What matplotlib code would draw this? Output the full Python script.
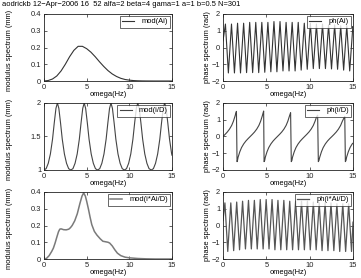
import matplotlib
matplotlib.use("Agg")
import matplotlib.pyplot as plt

plt.rcParams['font.family'] = ['Liberation Sans', 'DejaVu Sans']

title_text = "aodrickb 12\u2212Apr\u22122006 16  52 alfa=2 beta=4 gama=1 a=1 b=0.5 N=301"

# --- mod(Ai)
modAi_x = [0, 0.5, 1, 1.5, 2, 2.5, 3, 3.5, 4, 4.5, 5, 5.5, 6, 6.5, 7, 7.5, 8, 8.5, 9,
           9.5, 10, 10.5, 11, 11.5, 12, 13, 14, 15]
modAi_y = [0, 0.003, 0.012, 0.03, 0.06, 0.1, 0.145, 0.183, 0.207, 0.207, 0.193, 0.172,
           0.145, 0.115, 0.087, 0.062, 0.042, 0.027, 0.016, 0.009, 0.005, 0.0025, 0.0012,
           0.0005, 0.0002, 0, 0, 0]

# --- ph(Ai) zigzag vertices
phAi_x = [0, 0.28, 0.62, 0.98, 1.32, 1.68, 2.02, 2.38, 2.72, 3.08, 3.42, 3.78, 4.12, 4.48,
          4.82, 5.18, 5.52, 5.88, 6.22, 6.58, 6.92, 7.28, 7.62, 7.98, 8.32, 8.68, 9.02,
          9.38, 9.72, 10.08, 10.42, 10.78, 11.12, 11.48, 11.82, 12.18, 12.52, 12.88, 13.22,
          13.58, 13.92, 14.28, 14.62, 14.98, 15.0]
phAi_y = [0.4, 1.4, -1.52, 1.4, -1.52, 1.45, -1.52, 1.45, -1.5, 1.5, -1.5, 1.5, -1.5, 1.5,
          -1.48, 1.5, -1.45, 1.55, -1.45, 1.55, -1.4, 1.5, -1.4, 1.5, -1.4, 1.5, -1.35,
          1.45, -1.3, 1.45, -1.26, 1.4, -1.26, 1.4, -1.26, 1.35, -1.28, 1.35, -1.3,
          1.3, -1.35, 1.3, -1.4, 1.25, 1.2]

# --- mod(i/D)
modID_x = [0, 0.25, 0.5, 0.75, 1.0, 1.2, 1.4, 1.57, 1.74, 1.94, 2.14, 2.39, 2.64, 2.89, 3.14,
           3.39, 3.64, 3.89, 4.14, 4.34, 4.54, 4.71, 4.88, 5.08, 5.28, 5.53, 5.78, 6.03, 6.28,
           6.53, 6.78, 7.03, 7.28, 7.48, 7.68, 7.85, 8.02, 8.22, 8.42, 8.67, 8.92, 9.17, 9.42,
           9.67, 9.92, 10.17, 10.42, 10.62, 10.82, 10.99, 11.16, 11.36, 11.56, 11.81, 12.06, 12.31, 12.57,
           12.82, 13.07, 13.32, 13.57, 13.77, 13.97, 14.14, 14.31, 14.51, 14.71, 14.96, 15.0]
modID_y = [1.0, 1.02, 1.1, 1.24, 1.46, 1.7, 1.92, 2.0, 1.92, 1.7, 1.46, 1.24, 1.1, 1.02, 1.0,
           1.02, 1.1, 1.24, 1.46, 1.7, 1.92, 2.0, 1.92, 1.7, 1.46, 1.24, 1.1, 1.02, 1.0,
           1.02, 1.1, 1.24, 1.46, 1.7, 1.92, 2.0, 1.92, 1.7, 1.46, 1.24, 1.1, 1.02, 1.0,
           1.02, 1.1, 1.24, 1.46, 1.7, 1.92, 2.0, 1.92, 1.7, 1.46, 1.24, 1.1, 1.02, 1.0,
           1.02, 1.1, 1.24, 1.46, 1.7, 1.92, 2.0, 1.92, 1.7, 1.46, 1.24, 1.22]

# --- ph(i/D)
phID_x = [0, 0.25, 0.5, 0.75, 1.0, 1.2, 1.4, 1.5, 1.55,
          1.62, 1.67, 1.74, 1.94, 2.14, 2.39, 2.64, 2.89, 3.14, 3.39, 3.64, 3.89, 4.14, 4.34, 4.54, 4.64, 4.69,
          4.74, 4.81, 4.88, 5.08, 5.28, 5.53, 5.78, 6.03, 6.28, 6.53, 6.78, 7.03, 7.28, 7.48, 7.68, 7.8,
          7.88, 7.95, 8.02, 8.22, 8.42, 8.67, 8.92, 9.17, 9.42, 9.67, 9.92, 10.17, 10.42, 10.62, 10.8, 10.92,
          11.0, 11.07, 11.16, 11.36, 11.56, 11.81, 12.06, 12.31, 12.57, 12.82, 13.07, 13.32, 13.57, 13.77, 13.97, 14.05,
          14.12, 14.19, 14.26, 14.46, 14.66, 14.91, 15.0]
phID_y = [0, 0.13, 0.27, 0.44, 0.66, 0.91, 1.24, 1.43, 1.5,
          -1.5, -1.43, -1.24, -0.91, -0.66, -0.44, -0.27, -0.13, 0, 0.13, 0.27, 0.44, 0.66, 0.91, 1.24, 1.43, 1.52,
          -1.5, -1.43, -1.24, -0.91, -0.66, -0.44, -0.27, -0.13, 0, 0.13, 0.27, 0.44, 0.66, 0.91, 1.24, 1.42,
          -1.5, -1.43, -1.24, -0.91, -0.66, -0.44, -0.27, -0.13, 0, 0.13, 0.27, 0.44, 0.66, 0.91, 1.18, 1.27,
          -1.5, -1.43, -1.24, -0.91, -0.66, -0.44, -0.27, -0.13, 0, 0.13, 0.27, 0.44, 0.66, 0.91, 1.12, 1.2,
          -1.5, -1.43, -1.24, -0.91, -0.66, -0.44, -0.4]

# --- mod(i*Ai/D)
modIAD_x = [0, 0.3, 0.6, 0.9, 1.1, 1.3, 1.5, 1.7, 1.85, 2.0, 2.3, 2.6, 2.9, 3.1, 3.3, 3.6, 3.9,
            4.2, 4.45, 4.65, 4.85, 5.0, 5.2, 5.4, 5.6, 5.9, 6.2, 6.6, 6.9, 7.2, 7.5, 7.7, 8.0,
            8.3, 8.6, 9.0, 9.5, 10.0, 10.5, 11.0, 11.5, 12.0, 13.0, 14.0, 15.0]
modIAD_y = [0, 0.004, 0.02, 0.045, 0.065, 0.095, 0.13, 0.163, 0.178, 0.18, 0.175, 0.174, 0.178,
            0.187, 0.2, 0.228, 0.27, 0.33, 0.375, 0.395, 0.375, 0.345, 0.3, 0.25, 0.205, 0.165,
            0.143, 0.12, 0.106, 0.103, 0.1, 0.095, 0.078, 0.055, 0.035, 0.02, 0.011, 0.007,
            0.005, 0.003, 0.002, 0.001, 0, 0, 0]

# --- ph(i*Ai/D) zigzag vertices
phIAD_x = [0, 0.22, 0.55, 0.9, 1.23, 1.58, 1.91, 2.26, 2.59, 2.94, 3.27, 3.62, 3.95, 4.3,
           4.63, 4.98, 5.31, 5.66, 5.99, 6.34, 6.67, 7.02, 7.35, 7.7, 8.03, 8.38, 8.71,
           9.06, 9.39, 9.74, 10.07, 10.42, 10.75, 11.1, 11.43, 11.78, 12.11, 12.46, 12.79,
           13.14, 13.47, 13.82, 14.15, 14.5, 14.83, 15.0]
phIAD_y = [0.3, 1.35, -1.55, 1.35, -1.5, 1.4, -1.45, 1.45, -1.4, 1.5, -1.4, 1.5, -1.4, 1.55,
           -1.4, 1.55, -1.4, 1.55, -1.45, 1.5, -1.45, 1.5, -1.45, 1.45, -1.45, 1.45, -1.45,
           1.45, -1.45, 1.45, -1.45, 1.4, -1.45, 1.35, -1.5, 1.35, -1.5, 1.35, -1.5,
           1.3, -1.55, 1.3, -1.55, 1.3, -1.55, 0.2]

xlab = "omega(Hz)"
ylab_mod = "modulus spectrum (mm)"
ylab_ph = "phase spectrum (rad)"

fig = plt.figure(figsize=(3.61, 2.78), dpi=100)
W, H = 361.0, 278.0

def make_ax(x0, x1, y0, y1):
    return fig.add_axes([x0 / W, 1 - y1 / H, (x1 - x0) / W, (y1 - y0) / H])

lx0, lx1 = 44, 172
rx0, rx1 = 223, 353
rows = [(14, 81), (103, 170), (192, 259)]

TL2 = ['\u22122', '\u22121', '0', '1', '2']
TL04 = ['0', '0.1', '0.2', '0.3', '0.4']
panels = [
    (lx0, lx1, rows[0], modAi_x, modAi_y, "mod(Ai)", ylab_mod, (0, 0.4), [0, 0.1, 0.2, 0.3, 0.4], TL04, '#333333', 0.8),
    (rx0, rx1, rows[0], phAi_x, phAi_y, "ph(Ai)", ylab_ph, (-2, 2), [-2, -1, 0, 1, 2], TL2, '#333333', 0.8),
    (lx0, lx1, rows[1], modID_x, modID_y, "mod(i/D)", ylab_mod, (1, 2), [1, 1.5, 2], ['1', '1.5', '2'], '#444444', 0.8),
    (rx0, rx1, rows[1], phID_x, phID_y, "ph(i/D)", ylab_ph, (-2, 2), [-2, -1, 0, 1, 2], TL2, '#444444', 0.8),
    (lx0, lx1, rows[2], modIAD_x, modIAD_y, "mod(i*Ai/D)", ylab_mod, (0, 0.4), [0, 0.1, 0.2, 0.3, 0.4], TL04, '#7a7a7a', 1.1),
    (rx0, rx1, rows[2], phIAD_x, phIAD_y, "ph(i*Ai/D)", ylab_ph, (-2, 2), [-2, -1, 0, 1, 2], TL2, '#555555', 0.9),
]

fs = 5.4
for i, (x0, x1, (y0, y1), xs, ys, lab, ylab, ylim, yt, ytl, col, lw) in enumerate(panels):
    ax = make_ax(x0, x1, y0, y1)
    ax.plot(xs, ys, color=col, lw=lw, label=lab)
    ax.set_xlim(0, 15)
    ax.set_ylim(*ylim)
    ax.set_xticks([0, 5, 10, 15])
    ax.set_xticklabels(['0', '5', '10', '15'])
    ax.set_yticks(yt)
    ax.set_yticklabels(ytl)
    ax.tick_params(direction='in', top=True, right=True, labelsize=fs, length=2.5,
                   width=0.5, pad=2, colors='#222222')
    for s in ax.spines.values():
        s.set_linewidth(0.6)
        s.set_color('#222222')
    ax.set_xlabel(xlab, fontsize=fs, labelpad=0.5)
    ax.set_ylabel(ylab, fontsize=fs, labelpad=2)
    if i % 2 == 0:
        ax.yaxis.set_label_coords(-31 / (x1 - x0), 0.45)
    else:
        ax.yaxis.set_label_coords(-12 / (x1 - x0), 0.5)
    leg = ax.legend(loc='upper right', fontsize=fs, frameon=True, fancybox=False,
                    borderpad=0.3, borderaxespad=0.25, handlelength=1.6,
                    handletextpad=1.0, labelspacing=0.2)
    leg.get_frame().set_edgecolor('#222222')
    leg.get_frame().set_linewidth(0.6)

fig.text(2 / W, 1 - 1 / H, title_text, fontsize=fs, ha='left', va='top')

fig.savefig("out.png", dpi=100)
